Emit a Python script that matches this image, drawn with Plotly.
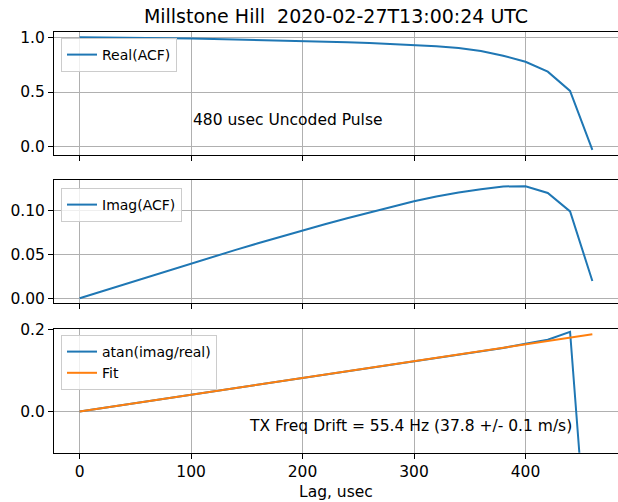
import plotly.graph_objects as go

# ---- data ----
lags = [0, 20, 40, 60, 80, 100, 120, 140, 160, 180, 200, 220, 240, 260, 280,
        300, 320, 340, 360, 380, 400, 420, 440, 460]
real_acf = [1.000, 0.999, 0.998, 0.996, 0.993, 0.989, 0.985, 0.981, 0.977, 0.972,
            0.968, 0.962, 0.956, 0.949, 0.940, 0.930, 0.918, 0.903, 0.876, 0.832,
            0.777, 0.686, 0.510, -0.028]
imag_acf = [0.0000, 0.0080, 0.0160, 0.0240, 0.0319, 0.0398, 0.0475, 0.0551, 0.0626,
            0.0700, 0.0773, 0.0843, 0.0911, 0.0978, 0.1044, 0.1105, 0.1160, 0.1206,
            0.1243, 0.1275, 0.1276, 0.1200, 0.0990, 0.0197]
phase = [0.0000, 0.0081, 0.0163, 0.0244, 0.0326, 0.0407, 0.0489, 0.0570, 0.0652,
         0.0733, 0.0815, 0.0896, 0.0978, 0.1059, 0.1141, 0.1222, 0.1303, 0.1385,
         0.1466, 0.1548, 0.1650, 0.1745, 0.1940, -0.5130]
fit = [0.0000, 0.0082, 0.0163, 0.0245, 0.0327, 0.0409, 0.0490, 0.0572, 0.0654,
       0.0736, 0.0817, 0.0899, 0.0981, 0.1063, 0.1144, 0.1226, 0.1308, 0.1390,
       0.1471, 0.1553, 0.1635, 0.1717, 0.1798, 0.1880]

title_text = "Millstone Hill  2020-02-27T13:00:24 UTC"
pulse_text = "480 usec Uncoded Pulse"
drift_text = "TX Freq Drift = 55.4 Hz (37.8 +/- 0.1 m/s)"
xlabel = "Lag, usec"
x_ticks = [0, 100, 200, 300, 400]
y1_ticks = [0.0, 0.5, 1.0]
y1_labels = ["0.0", "0.5", "1.0"]
y2_ticks = [0.00, 0.05, 0.10]
y2_labels = ["0.00", "0.05", "0.10"]
y3_ticks = [0.0, 0.2]
y3_labels = ["0.0", "0.2"]

BLUE = "#1f77b4"
ORANGE = "#ff7f0e"
FONT = "DejaVu Sans"
FS = 15.5

fig = go.Figure()
fig.add_trace(go.Scatter(x=lags, y=real_acf, mode="lines", name="Real(ACF)",
                         line=dict(color=BLUE, width=2), xaxis="x", yaxis="y",
                         legend="legend"))
fig.add_trace(go.Scatter(x=lags, y=imag_acf, mode="lines", name="Imag(ACF)",
                         line=dict(color=BLUE, width=2), xaxis="x2", yaxis="y2",
                         legend="legend2"))
fig.add_trace(go.Scatter(x=lags, y=phase, mode="lines", name="atan(imag/real)",
                         line=dict(color=BLUE, width=2), xaxis="x3", yaxis="y3",
                         legend="legend3"))
fig.add_trace(go.Scatter(x=lags, y=fit, mode="lines", name="Fit",
                         line=dict(color=ORANGE, width=2), xaxis="x3", yaxis="y3",
                         legend="legend3"))

xcommon = dict(range=[-23, 483], tickvals=x_ticks, showgrid=True, gridcolor="#b0b0b0",
               gridwidth=1, showline=True, linecolor="black", linewidth=1, mirror=True,
               ticks="outside", ticklen=5, tickcolor="black", zeroline=False,
               automargin=False,
               tickfont=dict(family=FONT, size=FS, color="black"))
ycommon = dict(showgrid=True, gridcolor="#b0b0b0", gridwidth=1, showline=True,
               linecolor="black", linewidth=1, mirror=False, ticks="outside",
               ticklen=5, tickcolor="black", zeroline=False, automargin=False,
               tickfont=dict(family=FONT, size=FS, color="black"))

H = 421.0
def dom(top_px, bot_px):
    return [(453 - bot_px) / H, (453 - top_px) / H]

legend_common = dict(bgcolor="rgba(255,255,255,0.8)", bordercolor="#cccccc",
                     borderwidth=1, font=dict(family=FONT, size=14, color="black"),
                     xanchor="left", yanchor="top", xref="paper", yref="paper",
                     tracegroupgap=0)

fig.update_layout(
    width=618, height=502,
    margin=dict(l=54, r=0, t=32, b=49, autoexpand=False),
    paper_bgcolor="white", plot_bgcolor="white",
    font=dict(family=FONT, size=FS, color="black"),
    title=dict(text=title_text, x=336 / 618, xanchor="center", y=1 - 16.5 / 502,
               yanchor="middle", font=dict(family=FONT, size=19, color="black")),
    xaxis=dict(xcommon, anchor="y", domain=[0, 1], showticklabels=False),
    xaxis2=dict(xcommon, anchor="y2", domain=[0, 1], showticklabels=False),
    xaxis3=dict(xcommon, anchor="y3", domain=[0, 1]),
    yaxis=dict(ycommon, anchor="x", domain=dom(32.3, 155.3), range=[-0.078, 1.046],
               tickvals=y1_ticks, ticktext=y1_labels),
    yaxis2=dict(ycommon, anchor="x2", domain=dom(180, 303.3), range=[-0.0058, 0.1348],
                tickvals=y2_ticks, ticktext=y2_labels),
    yaxis3=dict(ycommon, anchor="x3", domain=dom(329.3, 452.7), range=[-0.1, 0.2],
                tickvals=y3_ticks, ticktext=y3_labels),
    legend=dict(legend_common, x=(61 - 54) / 564, y=(453 - 38) / H),
    legend2=dict(legend_common, x=(61 - 54) / 564, y=(453 - 188) / H),
    legend3=dict(legend_common, x=(61 - 54) / 564, y=(453 - 335) / H),
    showlegend=True,
)

fig.add_annotation(x=100, y=0.249, xref="x", yref="y", text=pulse_text, showarrow=False,
                   xanchor="left", yanchor="middle",
                   font=dict(family=FONT, size=FS, color="black"))
fig.add_annotation(x=150, y=-0.034, xref="x3", yref="y3", text=drift_text, showarrow=False,
                   xanchor="left", yanchor="middle",
                   font=dict(family=FONT, size=FS, color="black"))
fig.add_annotation(x=0.5, y=(453 - 492) / H, xref="paper", yref="paper", text=xlabel,
                   showarrow=False, xanchor="center", yanchor="middle",
                   font=dict(family=FONT, size=FS, color="black"))

fig.write_html("out.html", config={"displayModeBar": False},
               post_script="document.body.style.margin='0';document.body.style.overflow='hidden';")
